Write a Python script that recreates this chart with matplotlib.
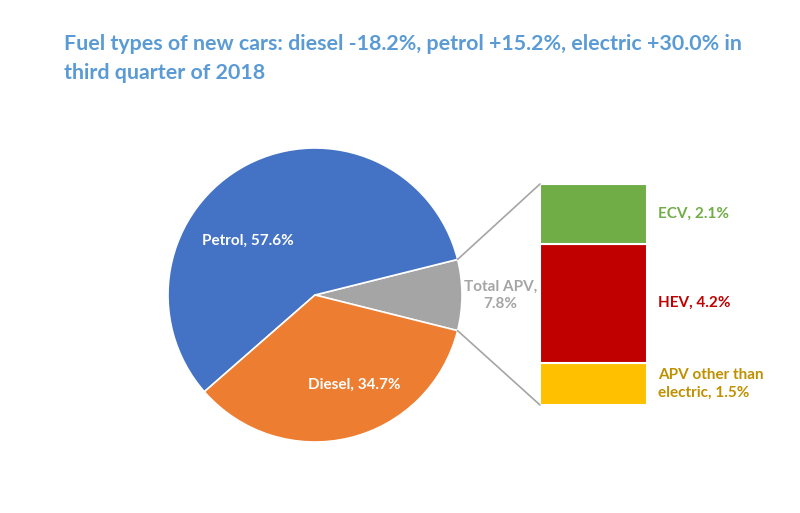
import matplotlib.pyplot as plt
import numpy as np
from matplotlib.patches import ConnectionPatch

# pie data (share of new cars, %)
pie_labels = ['Total APV,\n7.8%', 'Petrol, 57.6%', 'Diesel, 34.7%']
pie_values = [7.8, 57.6, 34.7]
pie_colors = ['#A5A5A5', '#4472C4', '#ED7D31']

# breakdown of APV (%), bottom to top
apv_labels = ['APV other than\nelectric, 1.5%', 'HEV, 4.2%', 'ECV, 2.1%']
apv_values = [1.5, 4.2, 2.1]
apv_colors = ['#FFC000', '#C00000', '#70AD47']
apv_text_colors = ['#BF9000', '#C00000', '#70AD47']

title = ('Fuel types of new cars: diesel -18.2%, petrol +15.2%, electric +30.0% in\n'
         'third quarter of 2018')

W, H = 800, 513
fig = plt.figure(figsize=(W / 100, H / 100), dpi=100)
fig.patch.set_facecolor('white')


def px_axes(x0, y0, x1, y1):
    # axes from pixel box (top-left origin)
    return fig.add_axes([x0 / W, 1 - y1 / H, (x1 - x0) / W, (y1 - y0) / H])


fig.text(64 / W, 1 - 34 / H, title, ha='left', va='top', fontsize=15.4,
         color='#5B9BD5', family='Lato', fontweight='bold', linespacing=1.55)

# pie
ax = px_axes(168, 148, 462, 442)
start = -pie_values[0] / 100 * 360 / 2
wedges, _ = ax.pie(pie_values, colors=pie_colors, startangle=start, counterclock=True,
                   wedgeprops=dict(edgecolor='white', linewidth=1.2))
ax.set_xlim(-1, 1)
ax.set_ylim(-1, 1)
ax.set_aspect('equal')

txt = dict(family='Lato', fontweight='bold', fontsize=11)
ax.text(-0.46, 0.37, pie_labels[1], color='white', ha='center', va='center', **txt)
ax.text(0.27, -0.61, pie_labels[2], color='white', ha='center', va='center', **txt)
ax.text(1.26, 0.0, pie_labels[0], color='#A5A5A5', ha='center', va='center',
        linespacing=1.3, **txt)

# stacked bar
ax2 = px_axes(540, 184, 647, 405)
bottom = 0
for v, c in zip(apv_values, apv_colors):
    ax2.bar(0, v, width=1, bottom=bottom, color=c, edgecolor='white', linewidth=1.5,
            align='edge')
    bottom += v
ax2.set_xlim(0, 1)
ax2.set_ylim(0, sum(apv_values))
ax2.axis('off')

bottom = 0
for v, lab, c in zip(apv_values, apv_labels, apv_text_colors):
    ax2.text(1.1, bottom + v / 2, lab, color=c, ha='left', va='center',
             linespacing=1.3, **txt)
    bottom += v

# connector lines from the APV wedge to the bar
w = wedges[0]
for ang, yb in [(w.theta2, sum(apv_values)), (w.theta1, 0)]:
    xa, ya = np.cos(np.radians(ang)), np.sin(np.radians(ang))
    con = ConnectionPatch(xyA=(0, yb), coordsA=ax2.transData,
                          xyB=(xa, ya), coordsB=ax.transData,
                          color='#A5A5A5', linewidth=1.2)
    fig.add_artist(con)

fig.savefig('out.png', dpi=100, facecolor='white')
